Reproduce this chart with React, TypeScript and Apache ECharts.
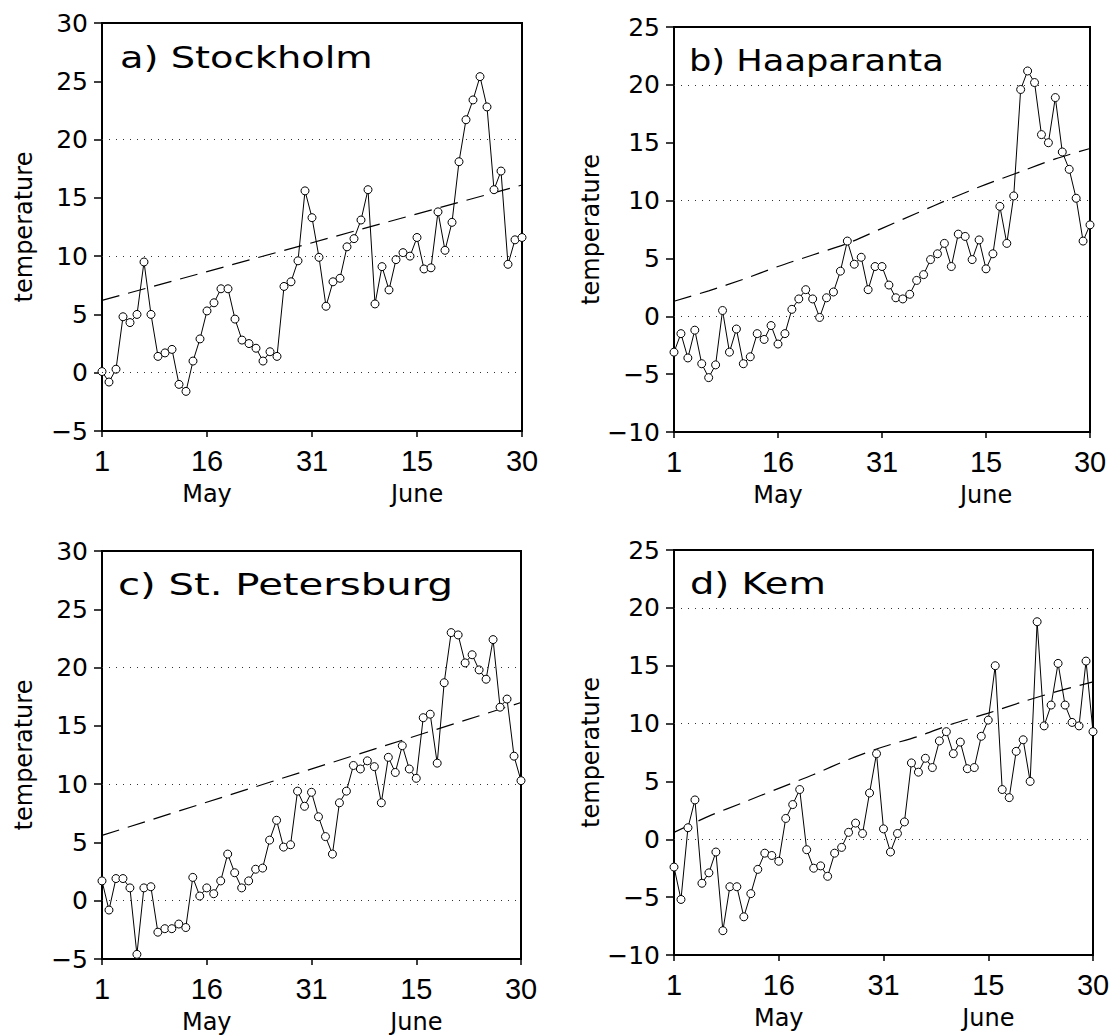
import React, { useEffect, useRef } from "react";
import * as echarts from "echarts";

// ---- Data (daily mean temperature, 1 May .. 30 June) ----
const dayTickLabels = ["1", "16", "31", "15", "30"];
const monthTickLabels = ["", "May", "", "June", ""];
const gridLevels = [0, 10, 20];

const stockholm = [0.1, -0.8, 0.3, 4.8, 4.3, 5.0, 9.5, 5.0, 1.4, 1.7, 2.0, -1.0, -1.6, 1.0, 2.9, 5.3, 6.0, 7.2, 7.2, 4.6, 2.8, 2.5, 2.1, 1.0, 1.8, 1.4, 7.4, 7.8, 9.6, 15.6, 13.3, 9.9, 5.7, 7.8, 8.1, 10.8, 11.5, 13.1, 15.7, 5.9, 9.1, 7.1, 9.7, 10.3, 10.0, 11.6, 8.9, 9.0, 13.8, 10.5, 12.9, 18.1, 21.7, 23.4, 25.4, 22.8, 15.7, 17.3, 9.3, 11.4, 11.6];
const haaparanta = [-3.1, -1.5, -3.6, -1.2, -4.1, -5.3, -4.2, 0.5, -3.1, -1.1, -4.1, -3.5, -1.5, -2.0, -0.8, -2.4, -1.5, 0.6, 1.5, 2.3, 1.5, -0.1, 1.6, 2.1, 3.9, 6.5, 4.5, 5.1, 2.3, 4.3, 4.3, 2.7, 1.6, 1.5, 1.9, 3.1, 3.6, 4.9, 5.4, 6.3, 4.3, 7.1, 6.9, 4.9, 6.6, 4.1, 5.4, 9.5, 6.3, 10.4, 19.6, 21.2, 20.2, 15.7, 15.0, 18.9, 14.2, 12.7, 10.2, 6.5, 7.9];
const stPetersburg = [1.7, -0.8, 1.9, 1.9, 1.1, -4.6, 1.1, 1.2, -2.7, -2.4, -2.4, -2.0, -2.3, 2.0, 0.4, 1.1, 0.6, 1.7, 4.0, 2.4, 1.1, 1.7, 2.7, 2.8, 5.2, 6.9, 4.6, 4.8, 9.4, 8.1, 9.3, 7.2, 5.5, 4.0, 8.4, 9.4, 11.6, 11.3, 12.0, 11.5, 8.4, 12.3, 11.0, 13.3, 11.3, 10.5, 15.7, 16.0, 11.8, 18.7, 23.0, 22.8, 20.4, 21.1, 19.8, 19.0, 22.4, 16.6, 17.3, 12.4, 10.3];
const kem = [-2.4, -5.2, 1.0, 3.4, -3.8, -2.9, -1.1, -7.9, -4.1, -4.1, -6.7, -4.7, -2.6, -1.2, -1.4, -1.9, 1.8, 3.0, 4.3, -0.9, -2.5, -2.3, -3.2, -1.2, -0.7, 0.6, 1.4, 0.5, 4.0, 7.4, 0.9, -1.1, 0.5, 1.5, 6.6, 5.8, 7.0, 6.2, 8.5, 9.3, 7.4, 8.4, 6.1, 6.2, 8.9, 10.3, 15.0, 4.3, 3.6, 7.6, 8.6, 5.0, 18.8, 9.8, 11.6, 15.2, 11.6, 10.1, 9.8, 15.4, 9.3];

// climatology (dashed) read at a few days since 1 May
const climDaysLinear = [0, 60];
const climStockholm = [6.2, 16.1];
const climStPetersburg = [5.6, 17.0];
const climDaysCurve = [0, 5, 10, 15, 20, 25, 30, 35, 40, 45, 50, 55, 60];
const climHaaparanta = [1.3, 2.2, 3.2, 4.3, 5.3, 6.3, 7.6, 8.9, 10.2, 11.4, 12.5, 13.6, 14.5];
const climKem = [0.6, 2.0, 3.2, 4.4, 5.6, 6.9, 8.0, 8.9, 10.0, 10.9, 11.9, 12.8, 13.6];

const panels = [
  { title: "a) Stockholm", values: stockholm, climDays: climDaysLinear, clim: climStockholm, yMin: -5, yMax: 30 },
  { title: "b) Haaparanta", values: haaparanta, climDays: climDaysCurve, clim: climHaaparanta, yMin: -10, yMax: 25 },
  { title: "c) St. Petersburg", values: stPetersburg, climDays: climDaysLinear, clim: climStPetersburg, yMin: -5, yMax: 30 },
  { title: "d) Kem", values: kem, climDays: climDaysCurve, clim: climKem, yMin: -10, yMax: 25 },
];

// ---- Layout ----
const grids = [
  { left: 102, top: 23, width: 420, height: 408 },
  { left: 674, top: 27, width: 416, height: 405 },
  { left: 102, top: 551, width: 419, height: 408 },
  { left: 674, top: 550, width: 419, height: 405 },
];
const titlePos = [
  { x: 120, y: 58, sx: 1.28 },
  { x: 689, y: 61, sx: 1.175 },
  { x: 118, y: 584, sx: 1.34 },
  { x: 690, y: 584, sx: 1.28 },
];

const fmtNum = (v: number) => (v < 0 ? "\u2212" + Math.abs(v) : String(v));

export default function App() {
  const ref = useRef<HTMLDivElement>(null);
  useEffect(() => {
    if (!ref.current) return;
    const chart = echarts.init(ref.current, undefined, { renderer: "svg" });
    const xAxis: any[] = [];
    const yAxis: any[] = [];
    const series: any[] = [];
    const graphic: any[] = [];
    panels.forEach((p, k) => {
      xAxis.push({
        gridIndex: k,
        type: "value",
        min: 0,
        max: 60,
        interval: 15,
        axisLine: { show: true, onZero: false, lineStyle: { color: "#000", width: 2 } },
        axisTick: { show: true, length: 6, lineStyle: { color: "#000", width: 1.5 } },
        splitLine: { show: false },
        axisLabel: {
          margin: 14,
          showMinLabel: true,
          showMaxLabel: true,
          formatter: (v: number) => {
            const i = Math.round(v / 15);
            const m = monthTickLabels[i];
            return m ? `{d|${dayTickLabels[i]}}\n{m|${m}}` : `{d|${dayTickLabels[i]}}`;
          },
          rich: {
            d: { fontFamily: "Liberation Sans", fontSize: 29, lineHeight: 32, color: "#000" },
            m: { fontFamily: "DejaVu Sans", fontSize: 24, lineHeight: 34, color: "#000" },
          },
        },
      });
      yAxis.push({
        gridIndex: k,
        type: "value",
        min: p.yMin,
        max: p.yMax,
        interval: 5,
        name: "temperature",
        nameLocation: "middle",
        nameGap: 66,
        nameTextStyle: { fontFamily: "DejaVu Sans", fontSize: 24, color: "#000" },
        axisLine: { show: true, onZero: false, lineStyle: { color: "#000", width: 2 } },
        axisTick: { show: true, length: 8, lineStyle: { color: "#000", width: 1.5 } },
        splitLine: { show: false },
        axisLabel: {
          margin: 14,
          fontFamily: "DejaVu Sans",
          fontSize: 25,
          color: "#000",
          showMinLabel: true,
          showMaxLabel: true,
          formatter: fmtNum,
        },
      });
      series.push({
        type: "line",
        xAxisIndex: k,
        yAxisIndex: k,
        data: p.climDays.map((d, i) => [d, p.clim[i]]),
        smooth: p.climDays.length > 2 ? 0.3 : false,
        symbol: "none",
        silent: true,
        lineStyle: { color: "#000", width: 1.2, type: [18, 9] },
        markLine: {
          silent: true,
          symbol: ["none", "none"],
          label: { show: false },
          lineStyle: { color: "#333", width: 1, type: [1, 6] },
          data: gridLevels.map((v) => ({ yAxis: v })),
        },
        z: 2,
      });
      series.push({
        type: "line",
        xAxisIndex: k,
        yAxisIndex: k,
        data: p.values.map((v, i) => [i, v]),
        symbol: "circle",
        symbolSize: 8,
        showAllSymbol: true,
        itemStyle: { color: "#fff", borderColor: "#000", borderWidth: 1 },
        lineStyle: { color: "#000", width: 1 },
        emphasis: { disabled: true },
        z: 3,
      });
      const tp = titlePos[k];
      graphic.push({
        type: "text",
        x: tp.x,
        y: tp.y,
        scaleX: tp.sx,
        style: {
          text: p.title,
          fontFamily: "DejaVu Sans",
          fontSize: 30,
          fill: "#000",
          align: "left",
          verticalAlign: "middle",
        },
      });
    });
    chart.setOption({
      animation: false,
      backgroundColor: "#fff",
      grid: grids.map((g) => ({ ...g, show: true, borderColor: "#000", borderWidth: 2, backgroundColor: "transparent" })),
      xAxis,
      yAxis,
      series,
      graphic,
    });
    return () => chart.dispose();
  }, []);
  return <div ref={ref} style={{ position: "absolute", left: 0, top: 0, width: 1120, height: 1035 }} />;
}
